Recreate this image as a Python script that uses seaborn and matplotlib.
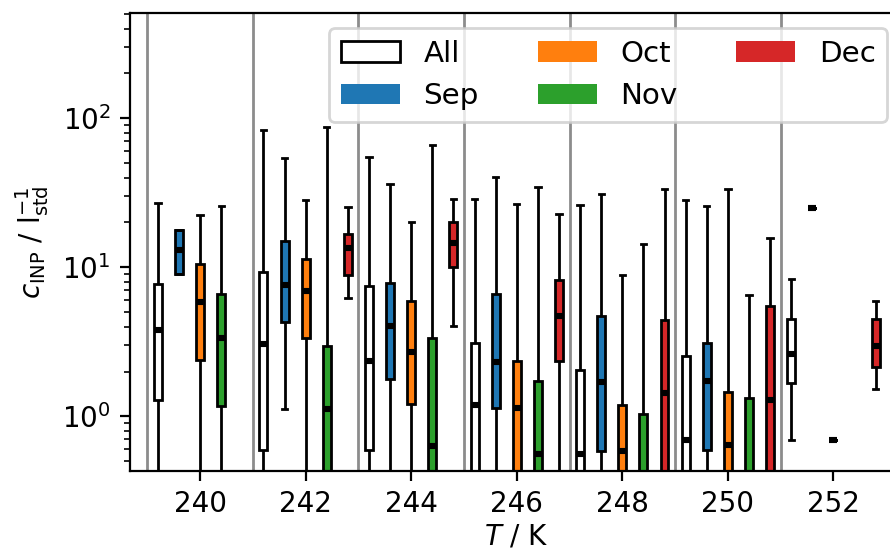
import numpy as np
import pandas as pd
import seaborn as sns
import matplotlib.pyplot as plt
from matplotlib.patches import Patch

# Temperature bins and groups
temps = [240, 242, 244, 246, 248, 250, 252]
bin_edges = [239, 241, 243, 245, 247, 249, 251]
months = ['All', 'Sep', 'Oct', 'Nov', 'Dec']
colors = ['white', '#1f77b4', '#ff7f0e', '#2ca02c', '#d62728']

# Five-number summaries: (whisker low, q1, median, q3, whisker high)
# values below the axis bottom are only guessed
all_stats = [(0.2, 1.28, 3.82, 7.69, 27.2),
             (0.2, 0.597, 3.07, 9.25, 83.0),
             (0.2, 0.591, 2.37, 7.45, 54.7),
             (0.1, 0.2, 1.20, 3.10, 28.6),
             (0.1, 0.2, 0.556, 2.04, 26.2),
             (0.1, 0.2, 0.690, 2.53, 28.5),
             (0.690, 1.67, 2.63, 4.52, 8.39)]
sep_stats = [(9.0, 9.07, 13.0, 17.8, 17.9),
             (1.12, 4.32, 7.57, 15.0, 53.9),
             (0.2, 1.77, 4.02, 7.85, 36.2),
             (0.2, 1.13, 2.31, 6.66, 40.4),
             (0.2, 0.585, 1.70, 4.74, 30.9),
             (0.2, 0.591, 1.74, 3.12, 25.9),
             (25.2, 25.2, 25.2, 25.2, 25.2)]
oct_stats = [(0.2, 2.40, 5.85, 10.5, 22.6),
             (0.2, 3.37, 6.90, 11.4, 28.2),
             (0.2, 1.22, 2.72, 5.94, 20.1),
             (0.1, 0.2, 1.14, 2.35, 26.6),
             (0.1, 0.2, 0.585, 1.20, 8.88),
             (0.1, 0.2, 0.642, 1.46, 33.7),
             (0.69, 0.69, 0.69, 0.69, 0.69)]
nov_stats = [(0.2, 1.17, 3.37, 6.59, 25.9),
             (0.1, 0.2, 1.12, 2.98, 87.5),
             (0.1, 0.2, 0.636, 3.37, 65.9),
             (0.1, 0.2, 0.556, 1.74, 34.6),
             (0.1, 0.2, 0.3, 1.04, 14.3),
             (0.1, 0.2, 0.3, 1.33, 6.56),
             None]
dec_stats = [None,
             (6.19, 8.88, 13.4, 16.7, 25.4),
             (4.04, 10.0, 14.6, 20.1, 28.9),
             (0.2, 2.34, 4.69, 8.18, 22.9),
             (0.1, 0.2, 1.43, 4.41, 33.7),
             (0.1, 0.2, 1.28, 5.47, 15.8),
             (1.53, 2.14, 2.96, 4.52, 5.91)]

# Long table: five values per box reproduce the summary exactly (whis spans min..max)
rows = []
for m, stats in zip(months, [all_stats, sep_stats, oct_stats, nov_stats, dec_stats]):
    for t, s in zip(temps, stats):
        if s is None:
            continue
        for v in s:
            rows.append({'T': t, 'c': v, 'month': m})
df = pd.DataFrame(rows)

fig = plt.figure(figsize=(4.45, 2.75), dpi=200)
ax = fig.add_axes([0.146, 0.1436, 0.8675, 0.8324])
ax.set_yscale('log')

for e in bin_edges:
    ax.axvline(e, color='#8c8c8c', lw=1, zorder=0)

sns.boxplot(data=df, x='T', y='c', hue='month', hue_order=months,
            palette=dict(zip(months, colors)), native_scale=True, dodge=True,
            width=1.0, gap=0.625, whis=(0, 100), saturation=1,
            linecolor='black', linewidth=1.0, capwidths=0.1,
            medianprops=dict(linewidth=2.2, solid_capstyle='butt'),
            legend=False, ax=ax)

ax.set_xlim(238.67, 253.3)
ax.set_ylim(0.43, 507)
ax.set_xticks([240, 242, 244, 246, 248, 250, 252])
ax.set_xticklabels(['240', '242', '244', '246', '248', '250', '252'])
ax.set_xlabel('$T$ / K', labelpad=1.5)
ax.set_ylabel('$c_\\mathrm{INP}$ / $\\mathrm{l_{std}^{-1}}$')

handles = [Patch(facecolor='white', edgecolor='black', lw=1.0, label='All')]
handles += [Patch(facecolor=c, label=m) for m, c in zip(months[1:], colors[1:])]
ax.legend(handles=handles, ncol=3, loc='upper right', fontsize=10.6)

fig.savefig('out.png', dpi=200)
